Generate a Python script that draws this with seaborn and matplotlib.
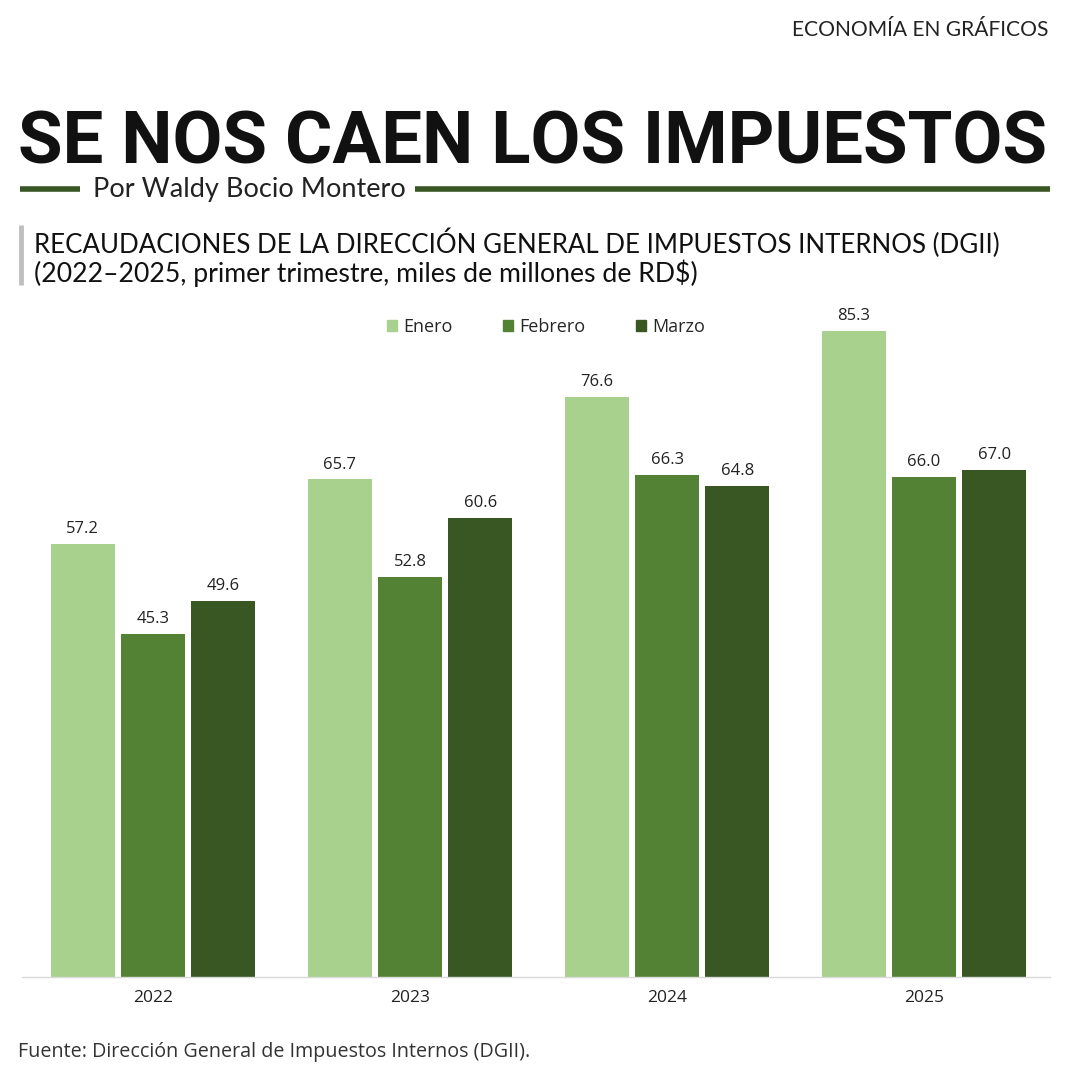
import pandas as pd
import numpy as np
import matplotlib.pyplot as plt
import seaborn as sns
from matplotlib.lines import Line2D
from matplotlib.patches import Rectangle

# Data
years = ['2022', '2023', '2024', '2025']
months = ['Enero', 'Febrero', 'Marzo']
enero = [57.2, 65.7, 76.6, 85.3]
febrero = [45.3, 52.8, 66.3, 66.0]
marzo = [49.6, 60.6, 64.8, 67.0]

colors = ['#a9d18e', '#548235', '#385723']

df = pd.DataFrame({'Año': years * 3,
                   'Mes': ['Enero'] * 4 + ['Febrero'] * 4 + ['Marzo'] * 4,
                   'Valor': enero + febrero + marzo})

sns.set_theme(style='white')
plt.rcParams['font.family'] = ['Open Sans', 'DejaVu Sans']

fig = plt.figure(figsize=(10.8, 10.8), dpi=100)
ax = fig.add_axes([22 / 1080, 1 - 977 / 1080, 1028 / 1080, 677 / 1080])

sns.barplot(data=df, x='Año', y='Valor', hue='Mes', hue_order=months,
            palette=colors, width=0.82, gap=0.09, ax=ax, saturation=1,
            edgecolor='none')

# value labels
for cont in ax.containers:
    ax.bar_label(cont, fmt='%.1f', padding=5, fontsize=12, color='#222222')

ax.set_ylim(0, 89.4)
ax.set_xlim(-0.51, 3.49)
ax.set_xlabel('')
ax.set_ylabel('')
ax.set_yticks([])
ax.tick_params(axis='x', length=0, labelsize=12.5, colors='#222222', pad=9)
for s in ['top', 'right', 'left']:
    ax.spines[s].set_visible(False)
ax.spines['bottom'].set_color('#d9d9d9')
ax.spines['bottom'].set_linewidth(1)

handles = [Rectangle((0, 0), 1, 1, color=c) for c in colors]
ax.legend(handles, months, loc='upper center', bbox_to_anchor=(0.51, 0.997),
          ncol=3, frameon=False, fontsize=13, handlelength=0.55,
          handleheight=0.55, handletextpad=0.35, columnspacing=2.8)

renderer = fig.canvas.get_renderer()


def fit_text(t, target_px):
    # shrink or grow the font so the text spans target_px
    w = t.get_window_extent(renderer).width
    t.set_fontsize(t.get_fontsize() * target_px / w)


# header
t = fig.text(1048 / 1080, 1 - 30 / 1080, 'ECONOMÍA EN GRÁFICOS', ha='right',
             va='center', fontsize=14, color='#222222', family=['Lato', 'DejaVu Sans'])
fit_text(t, 256)
t = fig.text(18 / 1080, 1 - 144 / 1080, 'SE NOS CAEN LOS IMPUESTOS', ha='left',
             va='center', fontsize=60, fontweight='bold', color='#111111',
             family=['Roboto', 'DejaVu Sans'])
fit_text(t, 1030)
t = fig.text(93 / 1080, 1 - 190 / 1080, 'Por Waldy Bocio Montero', ha='left',
             va='center', fontsize=17, color='#222222', family=['Lato', 'DejaVu Sans'])
fit_text(t, 312)
fig.add_artist(Line2D([20 / 1080, 80 / 1080], [1 - 189 / 1080] * 2,
                      color='#375623', lw=4, solid_capstyle='butt'))
fig.add_artist(Line2D([415 / 1080, 1050 / 1080], [1 - 189 / 1080] * 2,
                      color='#375623', lw=4, solid_capstyle='butt'))

# subtitle
fig.add_artist(Line2D([21 / 1080, 21 / 1080], [1 - 225 / 1080, 1 - 285 / 1080],
                      color='#bfbfbf', lw=3.5, solid_capstyle='butt'))
t = fig.text(34 / 1080, 1 - 243 / 1080,
             'RECAUDACIONES DE LA DIRECCIÓN GENERAL DE IMPUESTOS INTERNOS (DGII)',
             ha='left', va='center', fontsize=17, color='#111111',
             family=['Lato', 'DejaVu Sans'])
fit_text(t, 966)
fs = t.get_fontsize()
fig.text(34 / 1080, 1 - 273 / 1080,
         '(2022–2025, primer trimestre, miles de millones de RD$)',
         ha='left', va='center', fontsize=fs * 1.03, color='#111111',
         family=['Lato', 'DejaVu Sans'])

t = fig.text(18 / 1080, 1 - 1052 / 1080,
             'Fuente: Dirección General de Impuestos Internos (DGII).',
             ha='left', va='center', fontsize=12, color='#333333')
fit_text(t, 509)

fig.savefig('out.png', dpi=100, facecolor='white')
